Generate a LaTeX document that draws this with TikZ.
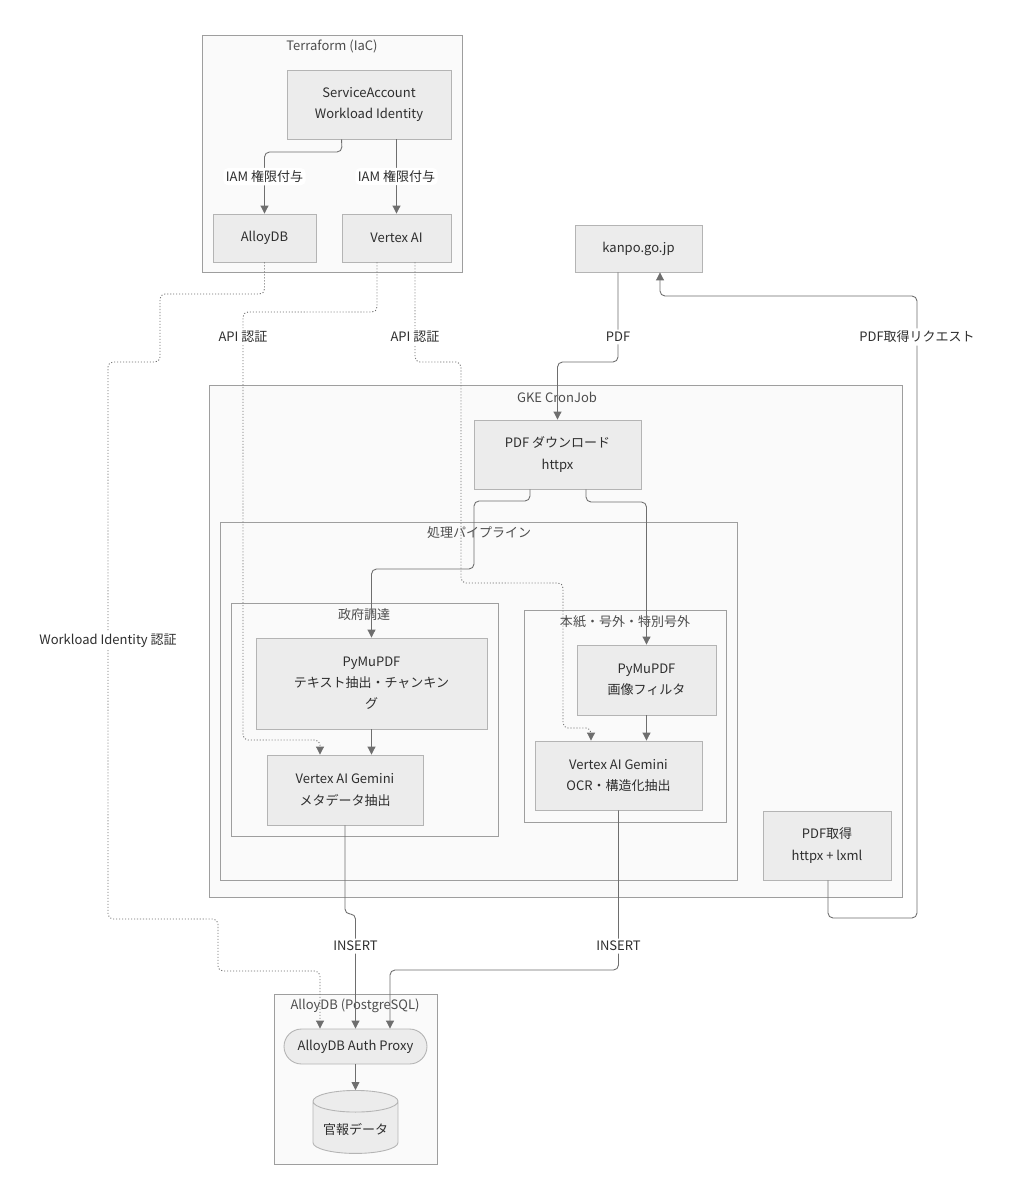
\documentclass[tikz,border=0pt]{standalone}
\usepackage{fontspec}
\setmainfont{Noto Sans CJK JP}
\usepackage{tikz}
\usetikzlibrary{calc,arrows.meta,shapes.geometric}
\definecolor{nodefill}{HTML}{ECECEC}
\definecolor{nodeline}{HTML}{B4B4B4}
\definecolor{clfill}{HTML}{FAFAFA}
\definecolor{clline}{HTML}{9E9E9E}
\definecolor{lncol}{HTML}{6E6E6E}
\definecolor{txt}{HTML}{2E2E2E}
\tikzset{
  box/.style={rectangle,draw=nodeline,fill=nodefill,line width=0.5pt,inner sep=2pt,align=center,text=txt},
  pill/.style={box,rounded corners=0.35cm},
  store/.style={box,cylinder,shape border rotate=90,aspect=0.3},
  clu/.style={draw=clline,fill=clfill,line width=0.5pt},
  ttl/.style={text=txt!85,inner sep=0pt},
  lbl/.style={fill=white,text=txt,inner sep=1.5pt},
  % plain flow edges and dotted auth edges, both with small rounded bends
  flow/.style={-{Triangle[length=1.6mm,width=1.6mm]},line width=0.5pt,lncol,rounded corners=0.1cm},
  auth/.style={flow,dash pattern=on 0.6pt off 1.1pt},
}
\begin{document}
\begin{tikzpicture}[x=0.02cm,y=-0.02cm,font=\fontsize{7.4}{12}\selectfont]
  \useasboundingbox[fill=white] (0,0) rectangle (1015,1200);
  % clusters
  \draw[clu] (202,35) rectangle (462,272);
  \node[ttl] (tftitle) at (332,46) {Terraform (IaC)};
  \draw[clu] (209,385) rectangle (902,897);
  \node[ttl] (gketitle) at (557,397) {GKE CronJob};
  \draw[clu] (220,522) rectangle (737,880);
  \node[ttl] (pipetitle) at (479,533) {処理パイプライン};
  \draw[clu] (231,603) rectangle (498,836);
  \node[ttl] (govtitle) at (364,615) {政府調達};
  \draw[clu] (524,610) rectangle (726,822);
  \node[ttl] (hontitle) at (625,622) {本紙・号外・特別号外};
  \draw[clu] (274,994) rectangle (437,1164);
  \node[ttl] (dbtitle) at (355,1006) {AlloyDB (PostgreSQL)};

  % nodes
  \node[box,minimum width=3.28cm,minimum height=1.38cm] (sa) at (369,104.5) {ServiceAccount\\Workload Identity};
  \node[box,minimum width=2.06cm,minimum height=0.96cm] (adb) at (264.5,238) {AlloyDB};
  \node[box,minimum width=2.18cm,minimum height=0.96cm] (vx) at (396.5,238) {Vertex AI};
  \node[box,minimum width=2.54cm,minimum height=0.94cm] (kp) at (638.5,248.5) {kanpo.go.jp};
  \node[box,minimum width=3.34cm,minimum height=1.38cm] (dl) at (557.5,454.5) {PDF ダウンロード\\httpx};
  \node[box,minimum width=4.62cm,minimum height=1.82cm] (pt) at (371.5,683.5) {PyMuPDF\\テキスト抽出・チャンキン\\グ};
  \node[box,minimum width=3.12cm,minimum height=1.40cm] (gm) at (345,790) {Vertex AI Gemini\\メタデータ抽出};
  \node[box,minimum width=2.78cm,minimum height=1.40cm] (pi) at (646.5,680) {PyMuPDF\\画像フィルタ};
  \node[box,minimum width=3.34cm,minimum height=1.38cm] (oc) at (618.5,775.5) {Vertex AI Gemini\\OCR・構造化抽出};
  \node[box,minimum width=2.56cm,minimum height=1.38cm] (pf) at (827,845.5) {PDF取得\\httpx + lxml};
  \node[pill,minimum width=2.86cm,minimum height=0.70cm] (px) at (355.5,1046.5) {AlloyDB Auth Proxy};
  \node[store,minimum width=1.70cm,minimum height=1.26cm,anchor=north] (db) at (355.5,1090) {官報データ};

  % IAM
  \draw[flow] (sa.south -| vx.west) -- (342,152) -| node[lbl,pos=0.7] {IAM 権限付与} (adb.north);
  \draw[flow] (sa.south -| vx.north) -- node[lbl] {IAM 権限付与} (vx.north);
  % auth
  \draw[auth] (adb.south) -- (264.5,294) -- (160,294) -- (160,362) -- (108,362)
    -- node[lbl] {Workload Identity 認証} (108,919) -- (218,919) -- (218,971) -- (320,971) -- (320,0 |- px.north);
  \draw[auth] (377,0 |- vx.south) -- (377,312) -- (243,312)
    -- node[lbl,pos=0.058] {API 認証} (243,740) -- (320,740) -- (320,0 |- gm.north);
  \draw[auth] (415,0 |- vx.south) -- node[lbl,pos=0.75] {API 認証} (415,362) -- (461,362) -- (461,583)
    -- (563,583) -- (563,728) -- (591,728) -- (591,0 |- oc.north);
  % fetch
  \draw[flow] (828,0 |- pf.south) -- (828,918) -- (917,918)
    -- node[lbl,pos=0.934] {PDF取得リクエスト} (917,296) -| (660,0 |- kp.south);
  \draw[flow] (618,0 |- kp.south) -- node[lbl,pos=0.72] {PDF} (618,362) -| (dl.north);
  % pipeline
  \draw[flow] (530,0 |- dl.south) -- (530,501) -- (474,501) -- (474,569) -| (pt.north);
  \draw[flow] (586,0 |- dl.south) -- (586,502) -| (pi.north);
  \draw[flow] (pt.south) -- (pt.south |- gm.north);
  \draw[flow] (pi.south) -- (pi.south |- oc.north);
  % insert
  \draw[flow] (gm.south) -- (345,914) -| node[lbl,pos=0.64] {INSERT} (px.north);
  \draw[flow] (oc.south) -- node[lbl,pos=0.85] {INSERT} (618.5,970) -| (390,0 |- px.north);
  \draw[flow] (px.south) -- (db.north);
\end{tikzpicture}
\end{document}
